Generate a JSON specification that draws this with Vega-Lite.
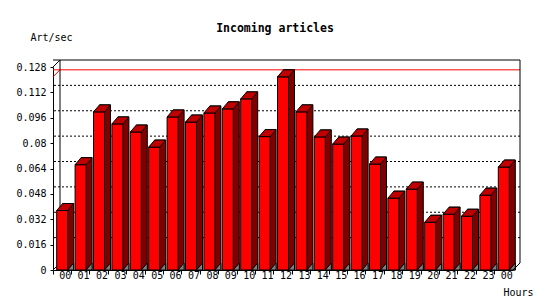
{
  "$schema": "https://vega.github.io/schema/vega-lite/v6.json",
  "width": 460,
  "height": 203,
  "autosize": {"type": "none"},
  "padding": {"left": 53, "top": 67, "right": 37, "bottom": 30},
  "background": "white",
  "title": {"text": "Incoming articles", "font": "DejaVu Sans Mono", "fontSize": 11.5, "fontWeight": "bold", "anchor": "middle", "frame": "group", "dx": -8, "dy": 6, "color": "black"},
  "config": {
    "view": {"stroke": null},
    "axis": {"labelFont": "DejaVu Sans Mono", "labelFontSize": 10, "labelColor": "black", "titleFont": "DejaVu Sans Mono", "titleFontSize": 10, "titleFontWeight": "normal", "titleColor": "black", "domainColor": "black", "tickColor": "black", "grid": false, "labelOverlap": false}
  },
  "datasets": {
    "rates": [
      {"slot": 0, "hour": "00", "value": 0.0375},
      {"slot": 1, "hour": "01", "value": 0.0664},
      {"slot": 2, "hour": "02", "value": 0.0997},
      {"slot": 3, "hour": "03", "value": 0.0921},
      {"slot": 4, "hour": "04", "value": 0.0870},
      {"slot": 5, "hour": "05", "value": 0.0775},
      {"slot": 6, "hour": "06", "value": 0.0965},
      {"slot": 7, "hour": "07", "value": 0.0933},
      {"slot": 8, "hour": "08", "value": 0.0990},
      {"slot": 9, "hour": "09", "value": 0.1016},
      {"slot": 10, "hour": "10", "value": 0.1079},
      {"slot": 11, "hour": "11", "value": 0.0841},
      {"slot": 12, "hour": "12", "value": 0.1218},
      {"slot": 13, "hour": "13", "value": 0.0997},
      {"slot": 14, "hour": "14", "value": 0.0839},
      {"slot": 15, "hour": "15", "value": 0.0794},
      {"slot": 16, "hour": "16", "value": 0.0845},
      {"slot": 17, "hour": "17", "value": 0.0668},
      {"slot": 18, "hour": "18", "value": 0.0453},
      {"slot": 19, "hour": "19", "value": 0.0510},
      {"slot": 20, "hour": "20", "value": 0.0301},
      {"slot": 21, "hour": "21", "value": 0.0352},
      {"slot": 22, "hour": "22", "value": 0.0339},
      {"slot": 23, "hour": "23", "value": 0.0472},
      {"slot": 24, "hour": "00", "value": 0.0649}
    ],
    "grid": [{"v": 0.016}, {"v": 0.032}, {"v": 0.048}, {"v": 0.064}, {"v": 0.08}, {"v": 0.096}, {"v": 0.112}, {"v": 0.128}]
  },
  "layer": [
    {
      "data": {"name": "grid"},
      "mark": {"type": "rule", "color": "black", "xOffset": 7, "x2Offset": 7, "yOffset": -7},
      "encoding": {
        "y": {
          "field": "v", "type": "quantitative", "scale": {"domain": [0, 0.128], "nice": false, "zero": true},
          "axis": {"values": [0, 0.016, 0.032, 0.048, 0.064, 0.08, 0.096, 0.112, 0.128], "tickCount": 9, "labelExpr": "format(datum.value, '~g')", "labelOverlap": false, "labelSeparation": 0, "labelFontSize": 10, "labelLimit": 0, "tickSize": 3, "labelPadding": 4, "title": "Art/sec", "titleAngle": 0, "titleAlign": "left", "titleBaseline": "alphabetic", "titleX": -23, "titleY": -27}
        },
        "strokeDash": {"condition": {"test": "datum.v > 0.12", "value": [1, 0]}, "value": [2, 2]}
      }
    },
    {
      "data": {"name": "rates"},
      "mark": {"type": "rule", "color": "#ff0000", "xOffset": 7, "x2Offset": 7, "yOffset": -7},
      "encoding": {"y": {"aggregate": "max", "field": "value", "type": "quantitative"}}
    },
    {
      "data": {"name": "rates"},
      "transform": [
        {"joinaggregate": [{"op": "max", "field": "value", "as": "maxv"}]},
        {"filter": "datum.slot == 0"}
      ],
      "mark": {"type": "rule", "color": "#ff0000", "xOffset": -9.2, "x2Offset": -2.2, "y2Offset": -7},
      "encoding": {
        "x": {"field": "slot", "type": "ordinal"},
        "x2": {"field": "slot"},
        "y": {"field": "maxv", "type": "quantitative"},
        "y2": {"field": "maxv"}
      }
    },
    {
      "data": {"name": "rates"},
      "transform": [{"filter": "datum.slot == 0"}],
      "mark": {"type": "rule", "color": "black", "xOffset": -9.2, "x2Offset": -2.2, "y2Offset": -7},
      "encoding": {
        "x": {"field": "slot", "type": "ordinal"},
        "x2": {"field": "slot"},
        "y": {"datum": 0.128, "type": "quantitative"},
        "y2": {"datum": 0.128}
      }
    },
    {
      "data": {"name": "rates"},
      "transform": [{"filter": "datum.slot == 0"}],
      "mark": {"type": "rule", "color": "black", "xOffset": -9.2, "x2Offset": -2.2, "y2Offset": -7},
      "encoding": {
        "x": {"field": "slot", "type": "ordinal"},
        "x2": {"field": "slot"},
        "y": {"datum": 0, "type": "quantitative"},
        "y2": {"datum": 0}
      }
    },
    {
      "data": {"name": "rates"},
      "transform": [{"filter": "datum.slot == 0"}],
      "mark": {"type": "rule", "color": "black", "xOffset": 7, "yOffset": -7, "y2Offset": -7},
      "encoding": {
        "x": {
          "field": "slot", "type": "ordinal", "bandPosition": 0,
          "scale": {"paddingInner": 0, "paddingOuter": 0},
          "axis": {"bandPosition": 0, "labelOffset": 3, "labelAlign": "center", "labelExpr": "(datum.value % 24 < 10 ? '0' : '') + (datum.value % 24)", "tickSize": 4, "labelPadding": 1, "labelAngle": 0, "title": "Hours", "titleAnchor": "end", "titleAlign": "right", "titleX": 480, "titleY": 25, "titleBaseline": "alphabetic"}
        },
        "y": {"datum": 0.128, "type": "quantitative"},
        "y2": {"datum": 0}
      }
    },
    {
      "data": {"name": "rates"},
      "transform": [{"filter": "datum.slot == 24"}],
      "mark": {"type": "rule", "color": "black", "xOffset": 7, "yOffset": -7, "y2Offset": -7},
      "encoding": {
        "x": {"field": "slot", "type": "ordinal", "bandPosition": 1},
        "y": {"datum": 0.128, "type": "quantitative"},
        "y2": {"datum": 0}
      }
    },
    {
      "data": {"name": "rates"},
      "mark": {"type": "bar", "width": 11, "fill": "#800000", "stroke": "black", "strokeWidth": 1, "xOffset": 6, "yOffset": -7},
      "encoding": {
        "x": {"field": "slot", "type": "ordinal"},
        "y": {"field": "value", "type": "quantitative", "stack": null},
        "y2": {"datum": 0}
      }
    },
    {
      "data": {"name": "rates"},
      "mark": {"type": "bar", "width": 11, "fill": "#ff0000", "stroke": "black", "strokeWidth": 1},
      "encoding": {
        "x": {"field": "slot", "type": "ordinal"},
        "y": {"field": "value", "type": "quantitative", "stack": null},
        "y2": {"datum": 0}
      }
    },
    {
      "data": {"name": "rates"},
      "mark": {"type": "point", "shape": "M-1,0.4118L0.2941,0.4118L1,-0.4118L-0.2941,-0.4118Z", "size": 289, "filled": true, "fill": "#c00000", "stroke": "black", "strokeWidth": 1, "opacity": 1, "xOffset": 3, "yOffset": -3.5},
      "encoding": {
        "x": {"field": "slot", "type": "ordinal"},
        "y": {"field": "value", "type": "quantitative"}
      }
    },
    {
      "data": {"name": "rates"},
      "mark": {"type": "point", "shape": "M0.857,-1L0.857,1L-0.857,1Z", "size": 49, "filled": true, "fill": "#808080", "stroke": "black", "strokeWidth": 1, "opacity": 1, "xOffset": 8.5, "yOffset": -3.5},
      "encoding": {
        "x": {"field": "slot", "type": "ordinal"},
        "y": {"datum": 0, "type": "quantitative"}
      }
    },
    {
      "data": {"name": "rates"},
      "transform": [{"filter": "datum.slot == 24"}],
      "mark": {"type": "rule", "color": "black", "xOffset": 9.2, "x2Offset": 16.2, "y2Offset": -7},
      "encoding": {
        "x": {"field": "slot", "type": "ordinal"},
        "x2": {"field": "slot"},
        "y": {"datum": 0, "type": "quantitative"},
        "y2": {"datum": 0}
      }
    }
  ]
}
